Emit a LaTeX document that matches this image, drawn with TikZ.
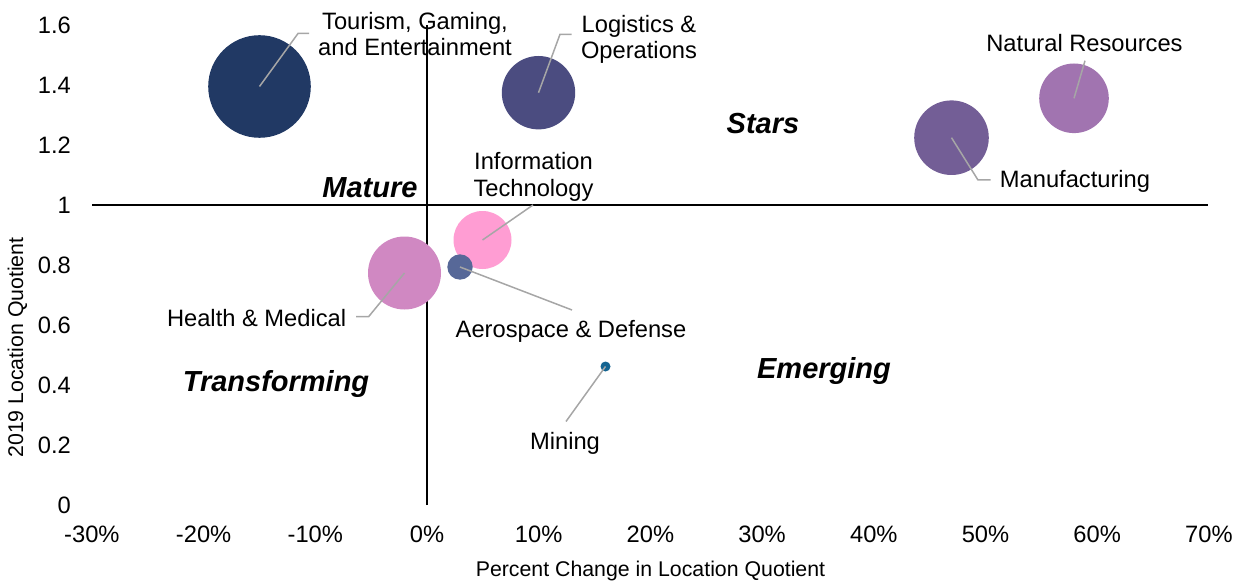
\documentclass[tikz,border=0pt]{standalone}
\usepackage{fontspec}
\setmainfont{Liberation Sans}
\definecolor{cTour}{RGB}{33,57,100}
\definecolor{cLog}{RGB}{75,76,128}
\definecolor{cNat}{RGB}{161,116,176}
\definecolor{cMan}{RGB}{115,94,150}
\definecolor{cIT}{RGB}{255,157,211}
\definecolor{cHealth}{RGB}{208,136,194}
\definecolor{cAero}{RGB}{87,104,152}
\definecolor{cMin}{RGB}{20,100,145}
\definecolor{leadgray}{RGB}{166,166,166}
\begin{document}
\begin{tikzpicture}[x=1pt,y=-1pt,
  lbl/.style={font=\fontsize{23.7}{26.5}\selectfont, inner sep=0pt, anchor=base, align=center},
  quad/.style={font=\fontsize{29}{32}\selectfont\bfseries\itshape, inner sep=0pt, anchor=base},
  tick/.style={font=\fontsize{23.7}{26}\selectfont, inner sep=0pt},
  axtitle/.style={font=\fontsize{21.3}{24}\selectfont, inner sep=0pt},
  bub/.style={circle, inner sep=0pt, outer sep=0pt, draw=none},
  leader/.style={draw=leadgray, line width=1.5pt},
  axisline/.style={draw=black, line width=1.6pt}]
\useasboundingbox (0,0) rectangle (1243,583);

% y tick labels
\foreach \v/\t [count=\i] in {0/0,0.2/0.2,0.4/0.4,0.6/0.6,0.8/0.8,1/1,1.2/1.2,1.4/1.4,1.6/1.6}
  \node[tick, anchor=east] (yt\i) at (71, {505-300*\v}) {\t};
% x tick labels
\foreach \v [count=\i] in {-30,-20,-10,0,10,20,30,40,50,60,70}
  \node[tick, anchor=base] (xt\i) at ({427+11.17*\v}, 542) {\v\%};
% axis titles
\node[axtitle, anchor=base] (xtitle) at (650.5, 576.5) {Percent Change in Location Quotient};
\node[axtitle, rotate=90] (ytitle) at (17.5, 347.5) {2019 Location Quotient};

% data labels (two-line labels: base = last line)
\node[lbl] (lTour) at (415, 55.7) {Tourism, Gaming,\\and Entertainment};
\node[lbl] (lLog) at (639, 59) {Logistics \&\\Operations};
\node[lbl] (lIT) at (533.5, 196.5) {Information\\Technology};
\node[lbl] (lNat) at (1084.5, 52) {Natural Resources};
\node[lbl] (lMan) at (1075, 187) {Manufacturing};
\node[lbl] (lHealth) at (256.6, 326) {Health \& Medical};
\node[lbl] (lAero) at (571, 337) {Aerospace \& Defense};
\node[lbl] (lMin) at (565, 449) {Mining};

% quadrant labels
\node[quad] (qStars) at (763, 134) {Stars};
\node[quad] (qMature) at (370, 197) {Mature};
\node[quad] (qTrans) at (276, 391) {Transforming};
\node[quad] (qEmerg) at (824, 378) {Emerging};

% axes
\coordinate (hL) at (92, 205);
\coordinate (hR) at (1208, 205);
\coordinate (vB) at (427, 505);
\coordinate (vT) at (427, 25);
\draw[axisline] (hL) -- (hR);
\draw[axisline] (vB) -- (vT);

% bubbles
\node[bub, fill=cTour, minimum size=102.6pt] (bTour) at (259.5, 86.5) {};
\node[bub, fill=cLog, minimum size=73.4pt] (bLog) at (538.5, 92.7) {};
\node[bub, fill=cNat, minimum size=69.6pt] (bNat) at (1074, 98.3) {};
\node[bub, fill=cMan, minimum size=74.6pt] (bMan) at (951.5, 137.7) {};
\node[bub, fill=cIT, minimum size=58pt] (bIT) at (482.5, 240) {};
\node[bub, fill=cHealth, minimum size=73pt] (bHealth) at (404.5, 273) {};
\node[bub, fill=cAero, minimum size=25.4pt] (bAero) at (460, 267) {};
\node[bub, fill=cMin, minimum size=10pt] (bMin) at (605.5, 366.5) {};

% leader lines
\coordinate (tTour1) at (298, 33.5); \coordinate (tTour2) at (309, 33.5);
\coordinate (tLog1) at (560, 34.3); \coordinate (tLog2) at (571.5, 34.3);
\coordinate (tNat1) at (1085, 60.7);
\coordinate (tMan1) at (978, 180); \coordinate (tMan2) at (990.5, 180);
\coordinate (tIT1) at (533, 205);
\coordinate (tAero1) at (572, 310);
\coordinate (tHealth1) at (368.6, 316.7); \coordinate (tHealth2) at (356, 316.7);
\coordinate (tMin1) at (566, 421.5);
\draw[leader] (bTour.center) -- (tTour1) -- (tTour2);
\draw[leader] (bLog.center) -- (tLog1) -- (tLog2);
\draw[leader] (bNat.center) -- (tNat1);
\draw[leader] (bMan.center) -- (tMan1) -- (tMan2);
\draw[leader] (bIT.center) -- (tIT1);
\draw[leader] (bAero.center) -- (tAero1);
\draw[leader] (bHealth.center) -- (tHealth1) -- (tHealth2);
\draw[leader] (bMin.center) -- (tMin1);
\end{tikzpicture}
\end{document}
